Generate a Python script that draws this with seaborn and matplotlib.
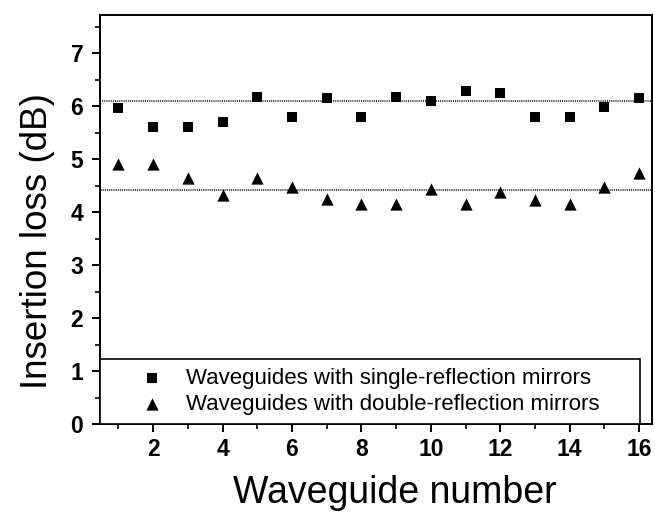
import matplotlib
matplotlib.use("Agg")
import matplotlib.pyplot as plt
import seaborn as sns
import pandas as pd
from matplotlib.ticker import FixedLocator, MultipleLocator

# ---- data ----
waveguide = [1, 2, 3, 4, 5, 6, 7, 8, 9, 10, 11, 12, 13, 14, 15, 16]
single_loss = [5.97, 5.61, 5.61, 5.70, 6.18, 5.80, 6.16, 5.80,
               6.18, 6.10, 6.28, 6.25, 5.80, 5.80, 5.99, 6.16]
double_loss = [4.90, 4.91, 4.64, 4.32, 4.64, 4.48, 4.25, 4.16,
               4.16, 4.44, 4.15, 4.37, 4.22, 4.16, 4.47, 4.74]
series_labels = ["Waveguides with single-reflection mirrors",
                 "Waveguides with double-reflection mirrors"]
ref_levels = [6.1, 4.42]
x_ticks = [2, 4, 6, 8, 10, 12, 14, 16]
y_ticks = [0, 1, 2, 3, 4, 5, 6, 7]
x_label = "Waveguide number"
y_label = "Insertion loss (dB)"

sns.set_theme(style="ticks")
plt.rcParams["font.family"] = ["Liberation Sans", "DejaVu Sans"]

W, H = 655, 514
fig = plt.figure(figsize=(W / 100, H / 100), dpi=100)
ax = fig.add_axes([100 / W, 1 - 424 / H, 552 / W, 409 / H])

df_single = pd.DataFrame({"waveguide": waveguide, "loss": single_loss})
df_double = pd.DataFrame({"waveguide": waveguide, "loss": double_loss})

sns.scatterplot(data=df_single, x="waveguide", y="loss", marker="s", s=48,
                color="black", linewidth=0, ax=ax, label=series_labels[0], zorder=3)
sns.scatterplot(data=df_double, x="waveguide", y="loss", marker="^", s=78,
                color="black", linewidth=0, ax=ax, label=series_labels[1], zorder=3)

# reference (dotted) levels
dot = [0.7, 0.7] * 26
ax.axhline(ref_levels[0], color="black", lw=1.1, ls=(0, dot + [0.7, 3.0]), zorder=2)
ax.axhline(ref_levels[1], color="black", lw=1.1, ls=(-3, dot + [0.7, 7.5]), zorder=2)

ax.set_xlim(0.47, 16.37)
ax.set_ylim(0, 7.72)
ax.xaxis.set_major_locator(FixedLocator(x_ticks))
ax.xaxis.set_minor_locator(MultipleLocator(1))
ax.yaxis.set_major_locator(FixedLocator(y_ticks))
ax.yaxis.set_minor_locator(MultipleLocator(0.5))

ax.tick_params(which="major", direction="out", length=6, width=1.4, color="black",
               labelsize=16.5, labelcolor="black")
ax.tick_params(axis="y", which="major", pad=6)
ax.tick_params(axis="x", which="major", pad=4)
ax.tick_params(which="minor", direction="out", length=3.5, width=1.2, color="black")
for lbl in ax.get_xticklabels() + ax.get_yticklabels():
    lbl.set_fontweight("bold")

for sp in ax.spines.values():
    sp.set_visible(True)
    sp.set_color("black")
    sp.set_linewidth(1.4)

ax.set_xlabel(x_label, fontsize=27, color="black")
ax.set_ylabel(y_label, fontsize=26.5, color="black")
ax.xaxis.set_label_coords(0.534, -0.125)
ax.yaxis.set_label_coords(-0.082, 0.447)

leg = ax.legend(loc="lower left", bbox_to_anchor=(0, 0, 540 / 552, 65 / 409),
                mode="expand", borderaxespad=0, fancybox=False, frameon=True,
                fontsize=16, handlelength=3.88, handletextpad=-0.44, borderpad=0.41,
                labelspacing=0.23, scatterpoints=1, framealpha=1)
leg.get_frame().set_edgecolor("black")
leg.get_frame().set_linewidth(1.2)
for t in leg.get_texts():
    t.set_color("black")

fig.savefig("out.png", dpi=100, facecolor="white")
